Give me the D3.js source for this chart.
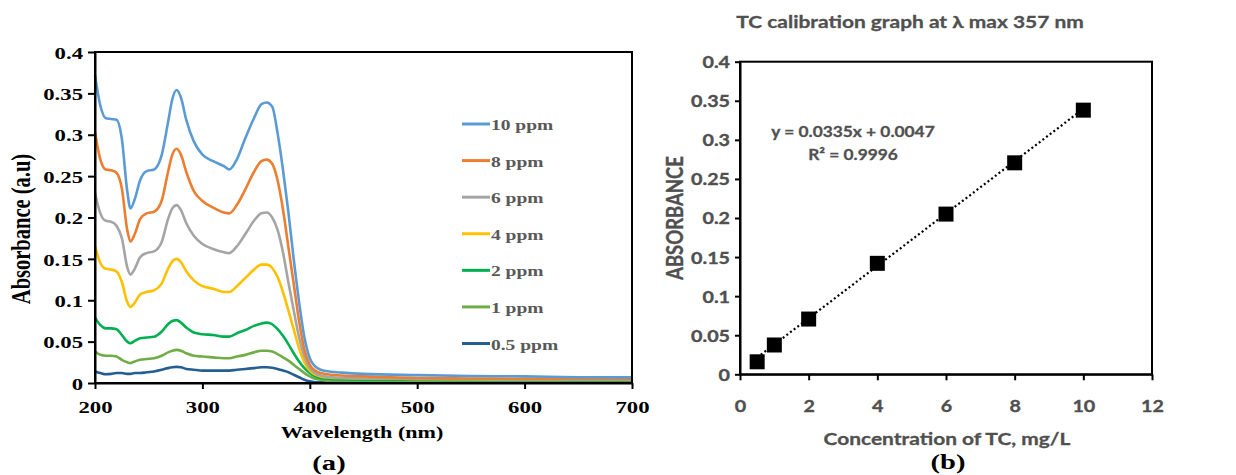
<!DOCTYPE html>
<html><head><meta charset="utf-8">
<script src="https://cdn.jsdelivr.net/npm/d3@7/dist/d3.min.js"></script>
<style>body{margin:0;background:#fff}</style>
</head><body>
<svg id="c" width="1236" height="475"></svg>
<script>
// ---------- DATA ----------
const wavelengths = [200,205,210,215,220,225,230,233,237,242,248,255,262,268,272,276,280,285,292,300,310,320,325,332,340,348,355,360,365,370,375,380,385,390,395,400,405,410,420,430,450,500,550,600,650,700];
const abs10ppm = [0.372,0.335,0.320,0.319,0.318,0.295,0.232,0.211,0.222,0.245,0.256,0.258,0.275,0.315,0.343,0.354,0.345,0.318,0.292,0.276,0.268,0.262,0.258,0.270,0.296,0.320,0.337,0.339,0.334,0.302,0.258,0.207,0.150,0.098,0.055,0.030,0.020,0.016,0.0135,0.0125,0.011,0.0095,0.0085,0.008,0.007,0.0068];
const abs8ppm  = [0.303,0.270,0.258,0.257,0.254,0.235,0.185,0.171,0.180,0.198,0.205,0.207,0.220,0.255,0.276,0.283,0.276,0.255,0.232,0.220,0.212,0.206,0.205,0.215,0.234,0.255,0.268,0.270,0.265,0.245,0.210,0.165,0.120,0.075,0.040,0.022,0.015,0.012,0.010,0.009,0.008,0.006,0.0055,0.005,0.0048,0.0045];
const abs6ppm  = [0.230,0.205,0.196,0.195,0.190,0.175,0.140,0.131,0.138,0.152,0.157,0.159,0.170,0.198,0.211,0.215,0.209,0.193,0.178,0.168,0.162,0.158,0.157,0.165,0.180,0.196,0.205,0.206,0.200,0.185,0.158,0.122,0.088,0.055,0.032,0.018,0.012,0.009,0.007,0.006,0.0055,0.005,0.0045,0.004,0.004,0.004];
const abs4ppm  = [0.165,0.145,0.138,0.137,0.135,0.122,0.098,0.092,0.097,0.107,0.110,0.112,0.120,0.138,0.147,0.150,0.146,0.135,0.124,0.117,0.114,0.110,0.110,0.117,0.127,0.137,0.143,0.143,0.139,0.128,0.110,0.088,0.065,0.042,0.025,0.015,0.010,0.008,0.0065,0.006,0.0055,0.005,0.0045,0.004,0.004,0.004];
const abs2ppm  = [0.079,0.070,0.066,0.066,0.065,0.058,0.050,0.048,0.051,0.054,0.055,0.056,0.062,0.071,0.075,0.076,0.073,0.067,0.061,0.059,0.058,0.056,0.056,0.060,0.064,0.069,0.072,0.073,0.071,0.065,0.057,0.047,0.036,0.026,0.018,0.012,0.008,0.006,0.005,0.0045,0.004,0.004,0.0035,0.0035,0.003,0.003];
const abs1ppm  = [0.038,0.034,0.033,0.033,0.032,0.028,0.025,0.024,0.026,0.028,0.029,0.030,0.033,0.037,0.039,0.040,0.039,0.036,0.033,0.032,0.031,0.030,0.030,0.032,0.034,0.037,0.039,0.039,0.038,0.035,0.031,0.027,0.022,0.017,0.012,0.008,0.005,0.004,0.003,0.003,0.0025,0.0025,0.002,0.002,0.002,0.002];
const abs05ppm = [0.014,0.012,0.0105,0.011,0.012,0.012,0.011,0.011,0.012,0.012,0.013,0.014,0.016,0.018,0.019,0.0195,0.019,0.017,0.016,0.015,0.015,0.015,0.015,0.016,0.017,0.018,0.019,0.019,0.0185,0.017,0.015,0.013,0.010,0.007,0.004,0.002,0.001,0.0008,0.0005,0.0005,0.0005,0.0005,0.0005,0.0005,0.0005,0.0005];
const seriesNames = ["10 ppm","8 ppm","6 ppm","4 ppm","2 ppm","1 ppm","0.5 ppm"];
const seriesValues = [abs10ppm,abs8ppm,abs6ppm,abs4ppm,abs2ppm,abs1ppm,abs05ppm];

const wlTicks = [200,300,400,500,600,700];
const absTicks = [0,0.05,0.1,0.15,0.2,0.25,0.3,0.35,0.4];
const absTickLabels = ["0","0.05","0.1","0.15","0.2","0.25","0.3","0.35","0.4"];

const concentrations = [0.5,1,2,4,6,8,10];
const calAbsorbance = [0.016,0.0375,0.0707,0.142,0.205,0.2706,0.338];
const concTicks = [0,2,4,6,8,10,12];
const fitSlope = 0.0335, fitIntercept = 0.0047, fitR2 = "0.9996";

// ---------- STYLE ----------
const seriesColors = ["#5B9BD5","#ED7D31","#A5A5A5","#FFC000","#00B050","#70AD47","#255E91"];
const SX = 1.3; // horizontal stretch of the source picture
const serif = "'Liberation Serif','Times New Roman',serif";
const sans = "Lato,'Open Sans',sans-serif";
const grayTxt = "#595959";
const grayR = "#505050";

const svg = d3.select("#c");
svg.append("rect").attr("width",1236).attr("height",475).attr("fill","#fff");

function stext(g, x, y, str, opts) {
  return g.append("text")
    .attr("transform", `translate(${x},${y}) scale(${SX},1)` + (opts.rotate ? " rotate(-90)" : ""))
    .attr("text-anchor", opts.anchor || "middle")
    .style("font-family", opts.family)
    .style("font-size", opts.size + "px")
    .style("font-weight", opts.weight || "bold")
    .attr("fill", opts.fill || "#000")
    .text(str);
}

// ---------- LEFT: spectra ----------
const L = {l:95, r:632, t:52, b:383};
const xW = d3.scaleLinear().domain([200,700]).range([L.l, L.r]);
const yA = d3.scaleLinear().domain([0,0.4]).range([L.b, L.t]);
const gL = svg.append("g");

const line = d3.line().curve(d3.curveMonotoneX)
  .x((d,i)=>xW(wavelengths[i])).y(d=>yA(d));
seriesValues.slice().reverse().forEach((vals, k) => {
  const idx = seriesValues.length - 1 - k;
  gL.append("path").datum(vals).attr("d", line)
    .attr("fill","none").attr("stroke", seriesColors[idx])
    .attr("stroke-width", 2.6).attr("stroke-linejoin","round");
});

gL.append("rect").attr("x",L.l).attr("y",L.t).attr("width",L.r-L.l).attr("height",L.b-L.t)
  .attr("fill","none").attr("stroke","#000").attr("stroke-width",2);

const axL = gL.append("g").attr("transform",`translate(${L.l},0)`)
  .call(d3.axisLeft(yA).tickValues(absTicks).tickFormat((d,i)=>absTickLabels[i]).tickSize(7).tickSizeOuter(0));
axL.select(".domain").attr("stroke","#000").attr("stroke-width",2);
axL.selectAll(".tick line").attr("stroke","#000").attr("stroke-width",2);
axL.selectAll(".tick text").attr("x",-12/SX).attr("dy","0.35em")
  .attr("transform",`scale(${SX},1)`)
  .style("font-family",serif).style("font-size","17.5px").style("font-weight","bold").attr("fill","#000");

const axB = gL.append("g").attr("transform",`translate(0,${L.b})`)
  .call(d3.axisBottom(xW).tickValues(wlTicks).tickFormat(d3.format("d")).tickSize(6).tickSizeOuter(0));
axB.select(".domain").attr("stroke","#000").attr("stroke-width",2);
axB.selectAll(".tick line").attr("stroke","#000").attr("stroke-width",2);
axB.selectAll(".tick text").attr("y",30).attr("dy","0")
  .attr("transform",`scale(${SX},1)`)
  .style("font-family",serif).style("font-size","17.5px").style("font-weight","bold").attr("fill","#000");

stext(gL, 362, 438, "Wavelength (nm)", {family:serif, size:17});
stext(gL, 30, 229, "Absorbance (a.u)", {family:serif, size:20.5, rotate:true});
stext(gL, 329, 470, "(a)", {family:serif, size:22});

// legend
const legY = d3.scaleLinear().domain([0,6]).range([124,343.5]);
seriesNames.forEach((n,i)=>{
  gL.append("line").attr("x1",462).attr("x2",490).attr("y1",legY(i)).attr("y2",legY(i))
    .attr("stroke",seriesColors[i]).attr("stroke-width",3);
  stext(gL, 491, legY(i)+6, n, {family:serif, size:15, anchor:"start", fill:grayTxt});
});

// ---------- RIGHT: calibration ----------
const R = {l:740, r:1152, t:61.7, b:374.3};
const xC = d3.scaleLinear().domain([0,12]).range([R.l, R.r]);
const yC = d3.scaleLinear().domain([0,0.4]).range([R.b, R.t]);
const gR = svg.append("g");
const sxR = SX*0.92;

gR.append("rect").attr("x",R.l).attr("y",R.t).attr("width",R.r-R.l).attr("height",R.b-R.t)
  .attr("fill","none").attr("stroke","#000").attr("stroke-width",2);

const axRL = gR.append("g").attr("transform",`translate(${R.l},0)`)
  .call(d3.axisLeft(yC).tickValues(absTicks).tickFormat((d,i)=>absTickLabels[i]).tickSize(5).tickSizeOuter(0));
axRL.select(".domain").attr("stroke","#000").attr("stroke-width",2);
axRL.selectAll(".tick line").attr("stroke","#000").attr("stroke-width",2);
axRL.selectAll(".tick text").attr("x",-10/sxR).attr("dy","0.36em")
  .attr("transform",`scale(${sxR},1)`)
  .style("font-family",sans).style("font-size","16.5px").style("font-weight","bold")
  .attr("fill",grayR).attr("stroke",grayR).attr("stroke-width",0.35);

const axRB = gR.append("g").attr("transform",`translate(0,${R.b})`)
  .call(d3.axisBottom(xC).tickValues(concTicks).tickFormat(d3.format("d")).tickSize(6).tickSizeOuter(0));
axRB.select(".domain").attr("stroke","#000").attr("stroke-width",2);
axRB.selectAll(".tick line").attr("stroke","#000").attr("stroke-width",2);
axRB.selectAll(".tick text").attr("y",37.5).attr("dy","0")
  .attr("transform",`scale(${sxR},1)`)
  .style("font-family",sans).style("font-size","16.5px").style("font-weight","bold")
  .attr("fill",grayR).attr("stroke",grayR).attr("stroke-width",0.35);

// trendline
const xr = d3.extent(concentrations);
gR.append("line")
  .attr("x1",xC(xr[0])).attr("y1",yC(fitSlope*xr[0]+fitIntercept))
  .attr("x2",xC(xr[1])).attr("y2",yC(fitSlope*xr[1]+fitIntercept))
  .attr("stroke","#000").attr("stroke-width",2.2).attr("stroke-dasharray","2,2.6");

// markers
const ms = 15;
gR.selectAll("rect.m").data(concentrations).enter().append("rect").attr("class","m")
  .attr("x",(d)=>xC(d)-ms/2).attr("y",(d,i)=>yC(calAbsorbance[i])-ms/2)
  .attr("width",ms).attr("height",ms).attr("fill","#000");

function rtext(x,y,str,size,rot){
  return gR.append("text")
    .attr("transform",`translate(${x},${y}) scale(${sxR},1)`+(rot?" rotate(-90)":""))
    .attr("text-anchor","middle").style("font-family",sans).style("font-size",size+"px")
    .style("font-weight","bold").attr("fill",grayR).attr("stroke",grayR).attr("stroke-width",0.3).text(str);
}
rtext(910, 28, "TC calibration graph at λ max 357 nm", 17.5);
rtext(853, 137, `y = ${fitSlope}x + ${fitIntercept}`, 14.5);
rtext(853, 160, `R² = ${fitR2}`, 14.5);
rtext(947, 445, "Concentration of TC, mg/L", 17.5);
rtext(683, 218, "ABSORBANCE", 18.5, true);
stext(gR, 948, 469, "(b)", {family:serif, size:22});
</script>
</body></html>
